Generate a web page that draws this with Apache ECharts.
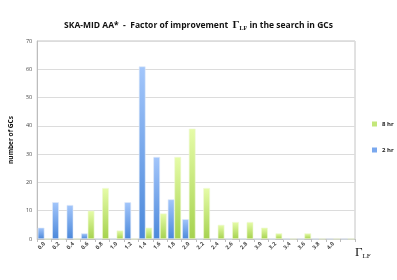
<!DOCTYPE html>
<html><head><meta charset="utf-8">
<script src="https://cdn.jsdelivr.net/npm/echarts@6/dist/echarts.min.js"></script>
<style>html,body{margin:0;padding:0;background:#fff}#c{width:397px;height:280px}</style>
</head><body><div id="c"></div>
<script>
const categories = ['0.0','0.2','0.4','0.6','0.8','1.0','1.2','1.4','1.6','1.8','2.0','2.2','2.4','2.6','2.8','3.0','3.2','3.4','3.6','3.8','4.0',''];
const hr2 = [4,13,12,2,0,0,13,61,29,14,7,0,0,0,0,0,0,0,0,0,0,0];
const hr8 = [0,0,0,10,18,3,0,4,9,29,39,18,5,6,6,4,2,0,2,0,0,0];
const yTicks = {min:0, max:70, interval:10};

const chart = echarts.init(document.getElementById('c'));
const blueGrad = new echarts.graphic.LinearGradient(0,0,0,1,[{offset:0,color:'#a3c6fb'},{offset:1,color:'#4b88da'}]);
const greenGrad = new echarts.graphic.LinearGradient(0,0,0,1,[{offset:0,color:'#e6fca8'},{offset:1,color:'#a5d24e'}]);
chart.setOption({
  animation:false,
  title:{
    text:'{a|SKA-MID AA*  -  Factor of improvement  }{g|Γ}{s|LF}{a| in the search in GCs}',
    left:'center', top:15,
    textStyle:{rich:{
      a:{fontFamily:'Open Sans',fontWeight:'bold',fontSize:8.5,color:'#111'},
      g:{fontFamily:'Liberation Serif',fontSize:11,color:'#111'},
      s:{fontFamily:'Liberation Serif',fontSize:6,color:'#111',padding:[5,0,0,0]}
    }}
  },
  legend:{
    orient:'vertical', left:367, top:116, itemGap:20, itemWidth:5, itemHeight:5, icon:'rect',
    data:[{name:'8 hr',itemStyle:{color:'#c3e77a',borderWidth:0}},{name:'2 hr',itemStyle:{color:'#7aa8ee',borderWidth:0}}],
    textStyle:{fontFamily:'Open Sans',fontWeight:'bold',fontSize:6,color:'#222'}
  },
  grid:{left:27, right:42, top:41, bottom:41, show:true, borderColor:'#c4c4c4', borderWidth:1},
  xAxis:{
    type:'category', data:categories,
    axisLine:{lineStyle:{color:'#bdbdbd'}},
    axisTick:{show:true,length:3,lineStyle:{color:'#bdbdbd'}},
    axisLabel:{rotate:45, interval:0, fontFamily:'Open Sans', fontWeight:'bold', fontSize:5.5, color:'#444', margin:4},
    name:'{g|Γ}{s|LF}', nameLocation:'end', nameGap:0,
    nameTextStyle:{padding:[28,0,0,0], rich:{
      g:{fontFamily:'Liberation Serif',fontSize:13,color:'#111'},
      s:{fontFamily:'Liberation Serif',fontSize:7,color:'#111',padding:[6,0,0,0]}
    }}
  },
  yAxis:{
    type:'value', min:yTicks.min, max:yTicks.max, interval:yTicks.interval,
    axisLine:{show:true,lineStyle:{color:'#bdbdbd'}},
    axisTick:{show:false},
    splitLine:{lineStyle:{color:'#dcdcdc'}},
    axisLabel:{fontFamily:'Open Sans',fontSize:5.5,color:'#444',margin:5},
    name:'number of GCs', nameLocation:'middle', nameGap:14, nameRotate:90,
    nameTextStyle:{fontFamily:'Open Sans',fontWeight:'bold',fontSize:6.5,color:'#111'}
  },
  series:[
    {name:'2 hr', type:'bar', data:hr2, barGap:'0%', barCategoryGap:'8%',
     itemStyle:{color:blueGrad, borderColor:'#dfe9f8', borderWidth:0.6}},
    {name:'8 hr', type:'bar', data:hr8, barGap:'0%', barCategoryGap:'8%',
     itemStyle:{color:greenGrad, borderColor:'#eef8d4', borderWidth:0.6}}
  ],
  color:['#7aa8ee','#c3e77a']
});
</script></body></html>
